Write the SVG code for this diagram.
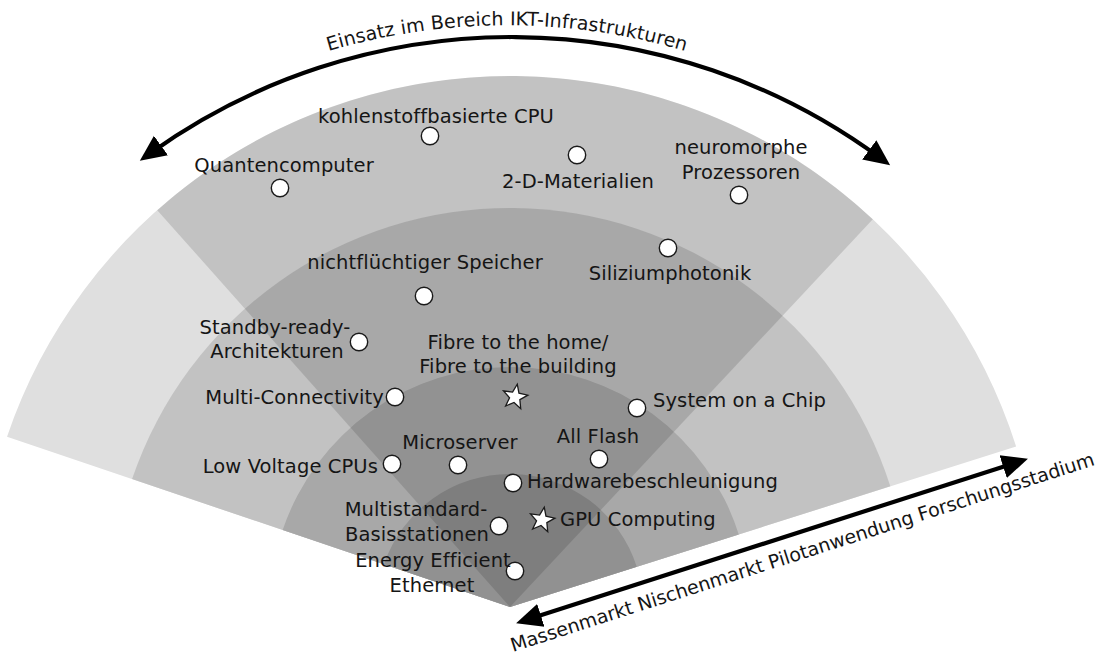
<svg xmlns="http://www.w3.org/2000/svg" xmlns:xlink="http://www.w3.org/1999/xlink" width="1105" height="659" viewBox="0 0 1105 659">
<style>
text{font-family:"DejaVu Sans","Liberation Sans",sans-serif;font-size:19.5px;fill:#151515;letter-spacing:0.1px}
.axis{font-size:19px}
.dot{fill:#fff;stroke:#1a1a1a;stroke-width:1.4}
.star{fill:#fff;stroke:#1a1a1a;stroke-width:1.3;stroke-linejoin:miter}
.arrow{fill:none;stroke:#000;stroke-width:4.2;marker-start:url(#head);marker-end:url(#head)}
.mid{text-anchor:middle}
.end{text-anchor:end}
</style>
<defs>
<marker id="head" markerUnits="userSpaceOnUse" markerWidth="30" markerHeight="26" viewBox="0 0 30 26" refX="14" refY="13" orient="auto-start-reverse">
<path d="M0,1 L26,13 L0,25 Z" fill="#000"/>
</marker>
<path id="starShape" d="M2.26,-12.8 L3.96,-3.82 L12.87,-1.81 L4.86,2.58 L5.7,11.68 L-0.96,5.42 L-9.35,9.03 L-5.45,0.77 L-11.48,-6.1 L-2.41,-4.94 Z"/>
<path id="topTextArc" d="M-41,341.5 A633,633 0 0 1 1055,341.5"/>
</defs>

<g id="fan">
<path d="M510,607 L7.03,436.76 A531,531 0 0 1 1016.14,446.44 Z" fill="#dfdfdf"/>
<path d="M510,607 L132.06,479.08 A399,399 0 0 1 890.32,486.35 Z" fill="#c2c2c2"/>
<path d="M510,607 L282.67,530.05 A240,240 0 0 1 738.77,534.43 Z" fill="#a8a8a8"/>
<path d="M510,607 L384.02,564.36 A133,133 0 0 1 636.77,566.78 Z" fill="#919191"/>
<path d="M510,607 L157.24,210.13 A531,531 0 0 1 872.82,219.29 Z" fill="#000" fill-opacity="0.13"/>
</g>

<g id="connectors">
<path class="arrow" d="M149.6,153.7 A621,621 0 0 1 880.5,158.2"/>
<path class="arrow" d="M527.5,619.6 L1016.5,462.4"/>
</g>

<g id="axis-labels">
<text class="axis mid"><textPath xlink:href="#topTextArc" href="#topTextArc" startOffset="50%">Einsatz im Bereich IKT-Infrastrukturen</textPath></text>
<text class="axis" transform="translate(513,652) rotate(-17.8)" textLength="612" lengthAdjust="spacing">Massenmarkt Nischenmarkt Pilotanwendung Forschungsstadium</text>
</g>

<g id="node-kohlenstoff"><circle class="dot" cx="430" cy="136" r="8.7"/><text class="mid" x="436" y="123">kohlenstoffbasierte CPU</text></g>
<g id="node-quanten"><circle class="dot" cx="280" cy="188" r="8.7"/><text class="mid" x="284" y="172">Quantencomputer</text></g>
<g id="node-2d"><circle class="dot" cx="577" cy="155" r="8.7"/><text class="mid" x="578" y="188">2-D-Materialien</text></g>
<g id="node-neuromorph"><circle class="dot" cx="739" cy="195" r="8.7"/><text class="mid" x="741" y="154">neuromorphe</text><text class="mid" x="741" y="179">Prozessoren</text></g>
<g id="node-speicher"><circle class="dot" cx="424" cy="296" r="8.7"/><text class="mid" x="425" y="269">nichtflüchtiger Speicher</text></g>
<g id="node-silizium"><circle class="dot" cx="668" cy="248" r="8.7"/><text class="mid" x="670" y="280">Siliziumphotonik</text></g>
<g id="node-standby"><circle class="dot" cx="359" cy="342" r="8.7"/><text class="mid" x="275" y="334">Standby-ready-</text><text class="mid" x="277" y="358">Architekturen</text></g>
<g id="node-ftth"><use href="#starShape" xlink:href="#starShape" class="star" x="515" y="397"/><text class="mid" x="518" y="349">Fibre to the home/</text><text class="mid" x="518" y="373">Fibre to the building</text></g>
<g id="node-multiconn"><circle class="dot" cx="395" cy="397" r="8.7"/><text class="end" x="384" y="404">Multi-Connectivity</text></g>
<g id="node-lowvoltage"><circle class="dot" cx="392" cy="464" r="8.7"/><text class="end" x="378" y="473">Low Voltage CPUs</text></g>
<g id="node-microserver"><circle class="dot" cx="458" cy="465" r="8.7"/><text class="mid" x="460" y="449">Microserver</text></g>
<g id="node-allflash"><circle class="dot" cx="599" cy="459" r="8.7"/><text class="mid" x="598" y="443">All Flash</text></g>
<g id="node-soc"><circle class="dot" cx="637" cy="408" r="8.7"/><text x="653" y="407">System on a Chip</text></g>
<g id="node-hw"><circle class="dot" cx="513" cy="483" r="8.7"/><text x="527" y="488">Hardwarebeschleunigung</text></g>
<g id="node-multistandard"><circle class="dot" cx="499" cy="526" r="8.7"/><text class="mid" x="416" y="516">Multistandard-</text><text class="mid" x="417" y="541">Basisstationen</text></g>
<g id="node-gpu"><use href="#starShape" xlink:href="#starShape" class="star" x="542" y="520"/><text x="560" y="526">GPU Computing</text></g>
<g id="node-eee"><circle class="dot" cx="515" cy="571" r="8.7"/><text class="mid" x="433" y="567">Energy Efficient</text><text class="mid" x="432" y="592">Ethernet</text></g>
</svg>
